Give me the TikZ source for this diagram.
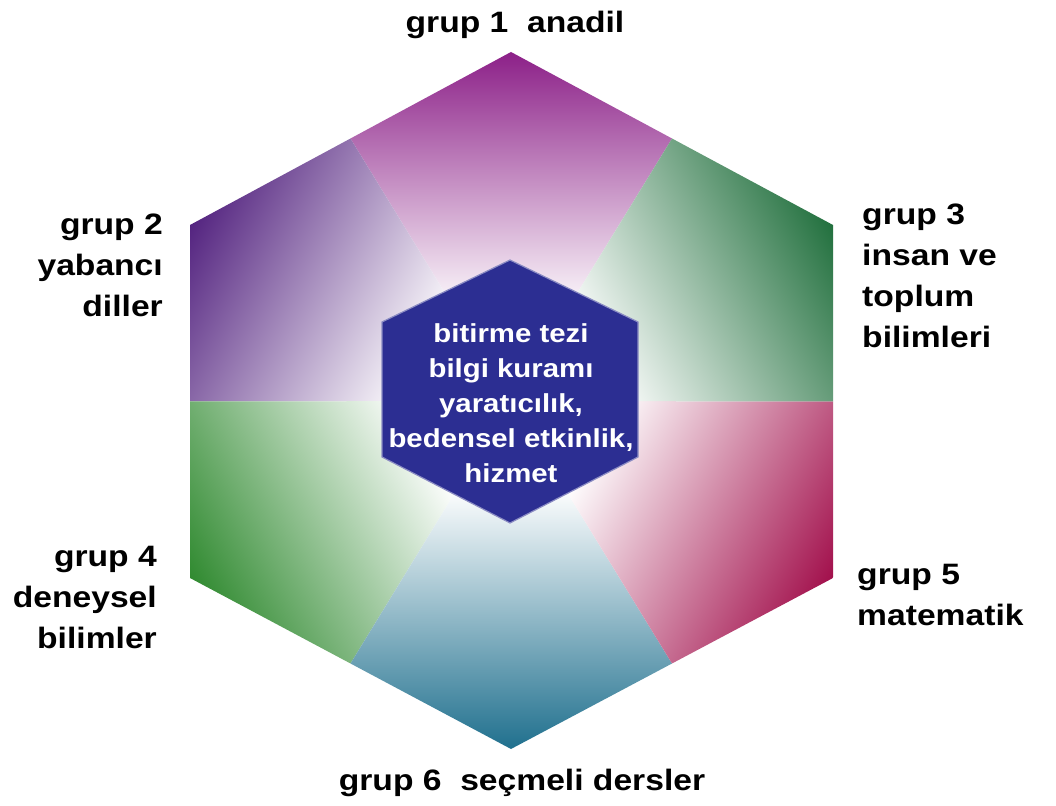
\documentclass[tikz,border=0pt]{standalone}
\usepackage{fontspec}
\setmainfont{Liberation Sans}
\newfontfamily\grpfont{Liberation Sans}[FakeStretch=1.14]
\newfontfamily\corefont{Liberation Sans}[FakeStretch=1.13]
\usetikzlibrary{calc}

\definecolor{gOne}{RGB}{140,32,136}
\definecolor{gTwo}{RGB}{84,36,128}
\definecolor{gThree}{RGB}{34,112,62}
\definecolor{gFour}{RGB}{48,138,48}
\definecolor{gFive}{RGB}{162,16,76}
\definecolor{gSix}{RGB}{32,112,142}
\definecolor{gSixMid}{RGB}{104,170,204}
\definecolor{coreBlue}{RGB}{44,46,146}

\tikzset{
    grplabel/.style={
        font=\grpfont\fontsize{29.5}{41}\selectfont\bfseries,
        inner sep=0pt
    },
    corehex/.style={
        fill=coreBlue,
        draw=coreBlue!55!white,
        line width=1.2pt
    },
    coretext/.style={
        font=\corefont\fontsize{26}{35}\selectfont\bfseries,
        text=white,
        align=center,
        inner sep=0pt
    }
}

\begin{document}
\begin{tikzpicture}[x=1pt, y=1pt]
    \useasboundingbox[fill=white] (0,0) rectangle (1056,805);

    % outer hexagon
    \coordinate (C) at (511,404);
    \coordinate (o1) at (511,753);
    \coordinate (o2) at (190,580);
    \coordinate (o4) at (190,227);
    \coordinate (o6) at (511,56);
    \coordinate (o5) at (833,227);
    \coordinate (o3) at (833,580);
    \coordinate (m12) at ($(o1)!0.5!(o2)$);
    \coordinate (m24) at ($(o2)!0.5!(o4)$);
    \coordinate (m46) at ($(o4)!0.5!(o6)$);
    \coordinate (m65) at ($(o6)!0.5!(o5)$);
    \coordinate (m53) at ($(o5)!0.5!(o3)$);
    \coordinate (m31) at ($(o3)!0.5!(o1)$);

    % one shaded sector per group
    \foreach \v/\ma/\mb/\ang/\len/\col/\midcol in {o1/m31/m12/90/349/gOne/gOne!68!white,
            o2/m12/m24/151.3/366/gTwo/gTwo!68!white, o4/m24/m46/208.9/367/gFour/gFour!68!white,
            o6/m46/m65/270/348/gSix/gSixMid, o5/m65/m53/331.2/367/gFive/gFive!68!white,
            o3/m53/m31/28.7/367/gThree/gThree!68!white}{
        \begin{scope}
            \clip (C) -- (\ma) -- (\v) -- (\mb) -- cycle;
            \begin{scope}[transform canvas={rotate around={\ang:(C)}}]
                \shade[left color=white, middle color=\midcol, right color=\col]
                    ($(C)+(0.25*\len,-\len)$) rectangle ($(C)+(\len,\len)$);
            \end{scope}
        \end{scope}
    }

    % inner hexagon
    \coordinate (i1) at (510,545);
    \coordinate (i2) at (382,483);
    \coordinate (i3) at (382,348);
    \coordinate (i4) at (510,282);
    \coordinate (i5) at (638,348);
    \coordinate (i6) at (638,483);
    \filldraw[corehex] (i1) -- (i2) -- (i3) -- (i4) -- (i5) -- (i6) -- cycle;
    \node[coretext] (core) at (511,402)
        {bitirme tezi\\bilgi kuramı\\yaratıcılık,\\bedensel etkinlik,\\hizmet};

    % group labels
    \node[grplabel, anchor=base] (grp1) at (515,772) {grup 1\ \ anadil};
    \node[grplabel, anchor=north east, align=right] (grp2) at (163,591)
        {grup 2\\yabancı\\diller};
    \node[grplabel, anchor=north west, align=left] (grp3) at (862,601)
        {grup 3\\insan ve\\toplum\\bilimleri};
    \node[grplabel, anchor=north east, align=right] (grp4) at (157,259)
        {grup 4\\deneysel\\bilimler};
    \node[grplabel, anchor=north west, align=left] (grp5) at (857,241)
        {grup 5\\matematik};
    \node[grplabel, anchor=base] (grp6) at (522,15) {grup 6\ \ seçmeli dersler};
\end{tikzpicture}
\end{document}
